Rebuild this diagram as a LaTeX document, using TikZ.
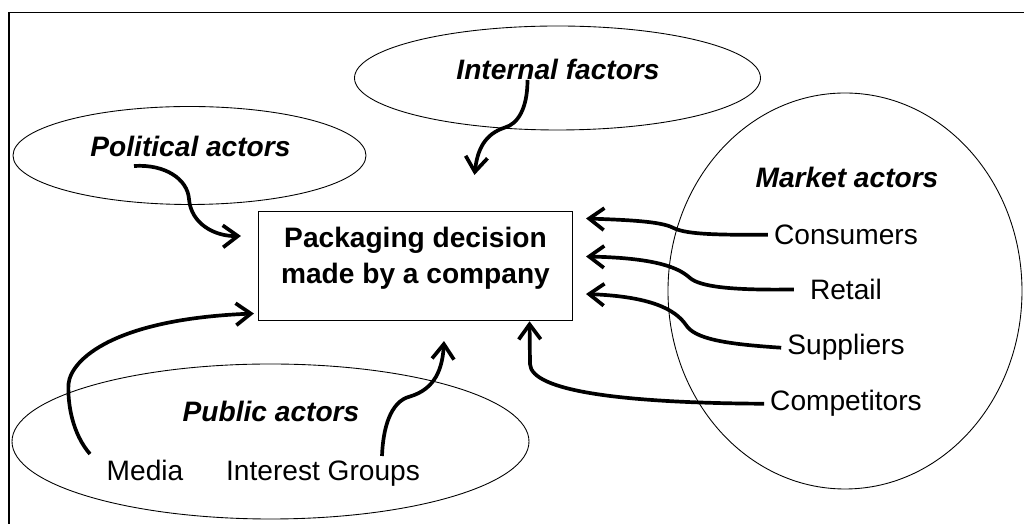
\documentclass[tikz,border=0pt]{standalone}
\usepackage{fontspec}
\setmainfont{Liberation Sans}
\usetikzlibrary{arrows.meta,shapes.geometric}

\tikzset{
  zone/.style={draw, ellipse, line width=0.5pt, inner sep=0pt},
  actor/.style={anchor=base, font=\fontsize{16}{20.4}\selectfont},
  group/.style={actor, font=\fontsize{16}{20.4}\selectfont\bfseries\itshape},
  flow/.style={-{Straight Barb[length=8.5pt,width=12.5pt]}, line width=2.1pt},
}

\begin{document}
\begin{tikzpicture}
  % helper grid: comment for final drawing
  % \draw[help lines,step=.5] (0,0) grid (20.48,10.48);
  \useasboundingbox (0,0) rectangle (20.48,10.48);
  \draw[line width=0.8pt] (0.18,0) -- (0.18,10.23) -- (20.48,10.23);
  % zones
  \node[zone, minimum width=8.12cm, minimum height=2.08cm] (internalzone) at (11.15,8.92) {};
  \node[zone, minimum width=7.06cm, minimum height=1.96cm] (politicalzone) at (3.79,7.37) {};
  \node[zone, minimum width=7.08cm, minimum height=7.92cm] (marketzone) at (16.90,4.66) {};
  \node[zone, minimum width=10.34cm, minimum height=3.10cm] (publiczone) at (5.41,1.65) {};
  % decision box
  \node[draw, line width=0.6pt, minimum width=6.28cm, minimum height=2.19cm] (box) at (8.31,5.16) {};
  \node[align=center, font=\fontsize{16}{20.4}\selectfont\bfseries] (decision) at (8.31,5.31) {Packaging decision\\made by a company};
  % texts
  \node[group] (internal) at (11.16,8.88) {Internal factors};
  \node[group] (political) at (3.81,7.35) {Political actors};
  \node[group] (market) at (16.94,6.73) {Market actors};
  \node[group] (public) at (5.42,2.04) {Public actors};
  \node[actor] (consumers) at (16.92,5.59) {Consumers};
  \node[actor] (retail) at (16.92,4.49) {Retail};
  \node[actor] (suppliers) at (16.92,3.38) {Suppliers};
  \node[actor] (competitors) at (16.92,2.26) {Competitors};
  \node[actor] (media) at (2.90,0.86) {Media};
  \node[actor] (interest) at (6.46,0.86) {Interest Groups};
  % influences
  \draw[flow] ([xshift=-0.61cm]internal.base) .. controls (10.55,8.3) and (10.35,8.0) .. (10.1,7.93)
    .. controls (9.7,7.8) and (9.55,7.5) .. ([shift={(1.18,0.715)}]box.north);
  \draw[flow] ([shift={(-1.13,-0.19)}]political.base) .. controls (3.3,7.2) and (3.75,6.9) .. (3.78,6.5)
    .. controls (3.82,6.0) and (4.3,5.75) .. ([shift={(-0.34,-0.505)}]box.north west);
  \draw[flow] (consumers.west) .. controls (14.2,5.78) and (13.7,5.80) .. (13.45,5.93)
    .. controls (13.2,6.05) and (12.6,6.08) .. ([shift={(0.26,-0.155)}]box.north east);
  \draw[flow] ([xshift=-0.2cm]retail.west) .. controls (14.6,4.67) and (14.0,4.75) .. (13.8,4.92)
    .. controls (13.6,5.1) and (13.2,5.32) .. ([shift={(0.26,0.19)}]box.east);
  \draw[flow] (suppliers.west) .. controls (14.5,3.6) and (13.9,3.7) .. (13.72,3.98)
    .. controls (13.5,4.3) and (13.0,4.55) .. ([shift={(0.26,-0.56)}]box.east);
  \draw[flow] (competitors.west) .. controls (12.5,2.42) and (10.62,2.65) .. (10.6,3.2)
    -- ([xshift=-0.87cm]box.south east);
  \draw[flow] ([shift={(1.18,0.5)}]interest.base) .. controls (7.66,1.9) and (7.8,2.45) .. (8.2,2.55)
    .. controls (8.7,2.7) and (8.85,3.1) .. ([shift={(0.57,-0.395)}]box.south);
  \draw[flow] ([shift={(-1.1,0.54)}]media.base) .. controls (1.45,1.8) and (1.35,2.4) .. (1.37,2.8)
    .. controls (1.42,3.3) and (2.3,4.1) .. ([shift={(-0.08,0.155)}]box.south west);
\end{tikzpicture}
\end{document}
